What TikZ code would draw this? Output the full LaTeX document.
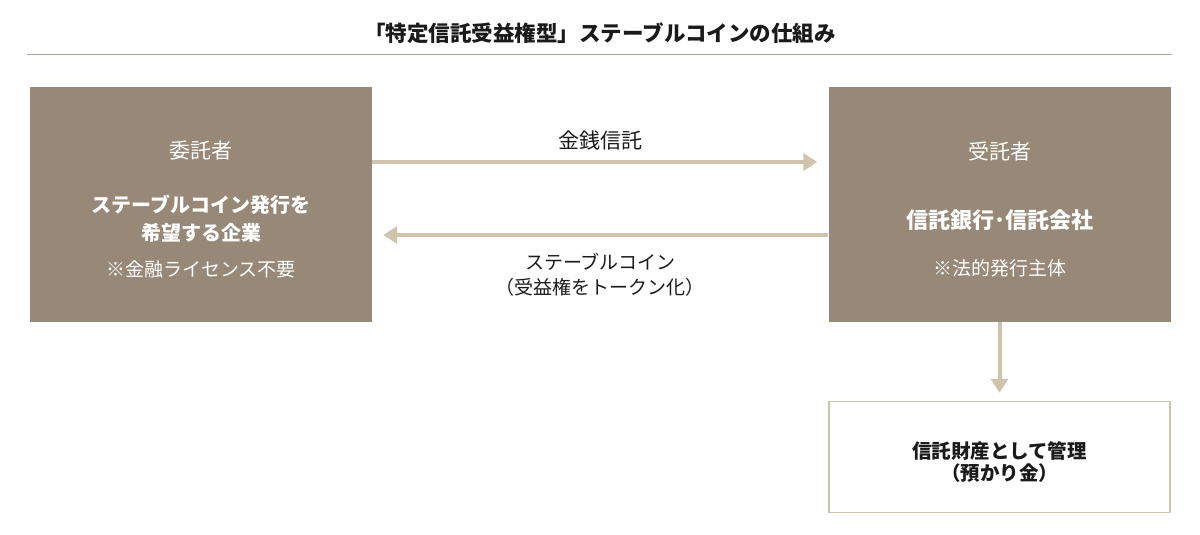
\documentclass[tikz,border=0pt]{standalone}
\usepackage{fontspec}
\setmainfont{Noto Sans CJK JP}
\usetikzlibrary{arrows.meta}
\definecolor{boxbrown}{RGB}{151,136,120}
\definecolor{flowtan}{RGB}{208,195,172}
\definecolor{ruleg}{RGB}{172,166,156}
\definecolor{inkdark}{RGB}{26,26,26}
\begin{document}
\begin{tikzpicture}[x=1pt, y=-1pt, line join=round,
  party/.style={fill=boxbrown, minimum width=342pt, minimum height=235pt, inner sep=0pt},
  whead/.style={text=white, font=\fontsize{21}{24}\selectfont},
  wtxt/.style={text=white, font=\fontsize{19}{22}\selectfont},
  wbold/.style={text=white, font=\bfseries\fontsize{20}{28}\selectfont, align=center},
  flowlbl/.style={text=inkdark, font=\fontsize{19}{25}\selectfont, align=center},
  flow/.style={draw=flowtan, line width=4pt, -{Triangle[length=14pt,width=17pt]}, shorten >=11pt}]
\useasboundingbox (0,0) rectangle (1200,535);

% title
\node[text=inkdark, font=\bfseries\fontsize{21.5}{24}\selectfont] (title) at (600,33) {「特定信託受益権型」ステーブルコインの仕組み};
\draw[ruleg, line width=1pt] (27,55) -- (1172,55);

% parties
\node[party] (itaku) at (201,204.5) {};
\node[party] (jutaku) at (999.5,204.5) {};
\node[draw=flowtan, line width=1.5pt, fill=white, minimum width=341pt, minimum height=111pt, inner sep=0pt] (kanri) at (999.5,457) {};

\node[whead] (itakuA) at (201,151) {委託者};
\node[wbold] (itakuB) at (201,219) {ステーブルコイン発行を\\希望する企業};
\node[wtxt] (itakuC) at (201,269) {※金融ライセンス不要};

\node[whead] (jutakuA) at (999.5,151) {受託者};
\node[wbold, font=\bfseries\fontsize{22}{28}\selectfont] (jutakuB) at (999.5,220) {信託銀行･信託会社};
\node[wtxt] (jutakuC) at (999.5,268) {※法的発行主体};

\node[text=inkdark, font=\bfseries\fontsize{19.5}{22}\selectfont, align=center] (kanriA) at (999.5,462) {信託財産として管理\\（預かり金）};

% flows
\draw[flow] ([yshift=42.5pt]itaku.east) -- ([yshift=42.5pt]jutaku.west)
  node[flowlbl, font=\fontsize{21}{25}\selectfont, midway, yshift=21pt] (kinsen) {金銭信託};
\draw[flow] ([yshift=-30.5pt]jutaku.west) -- ([yshift=-30.5pt]itaku.east)
  node[flowlbl, midway, yshift=-39.5pt] (coin) {ステーブルコイン\\（受益権をトークン化）};
\draw[flow, shorten >=8pt] (jutaku.south) -- (kanri.north);
\end{tikzpicture}
\end{document}
